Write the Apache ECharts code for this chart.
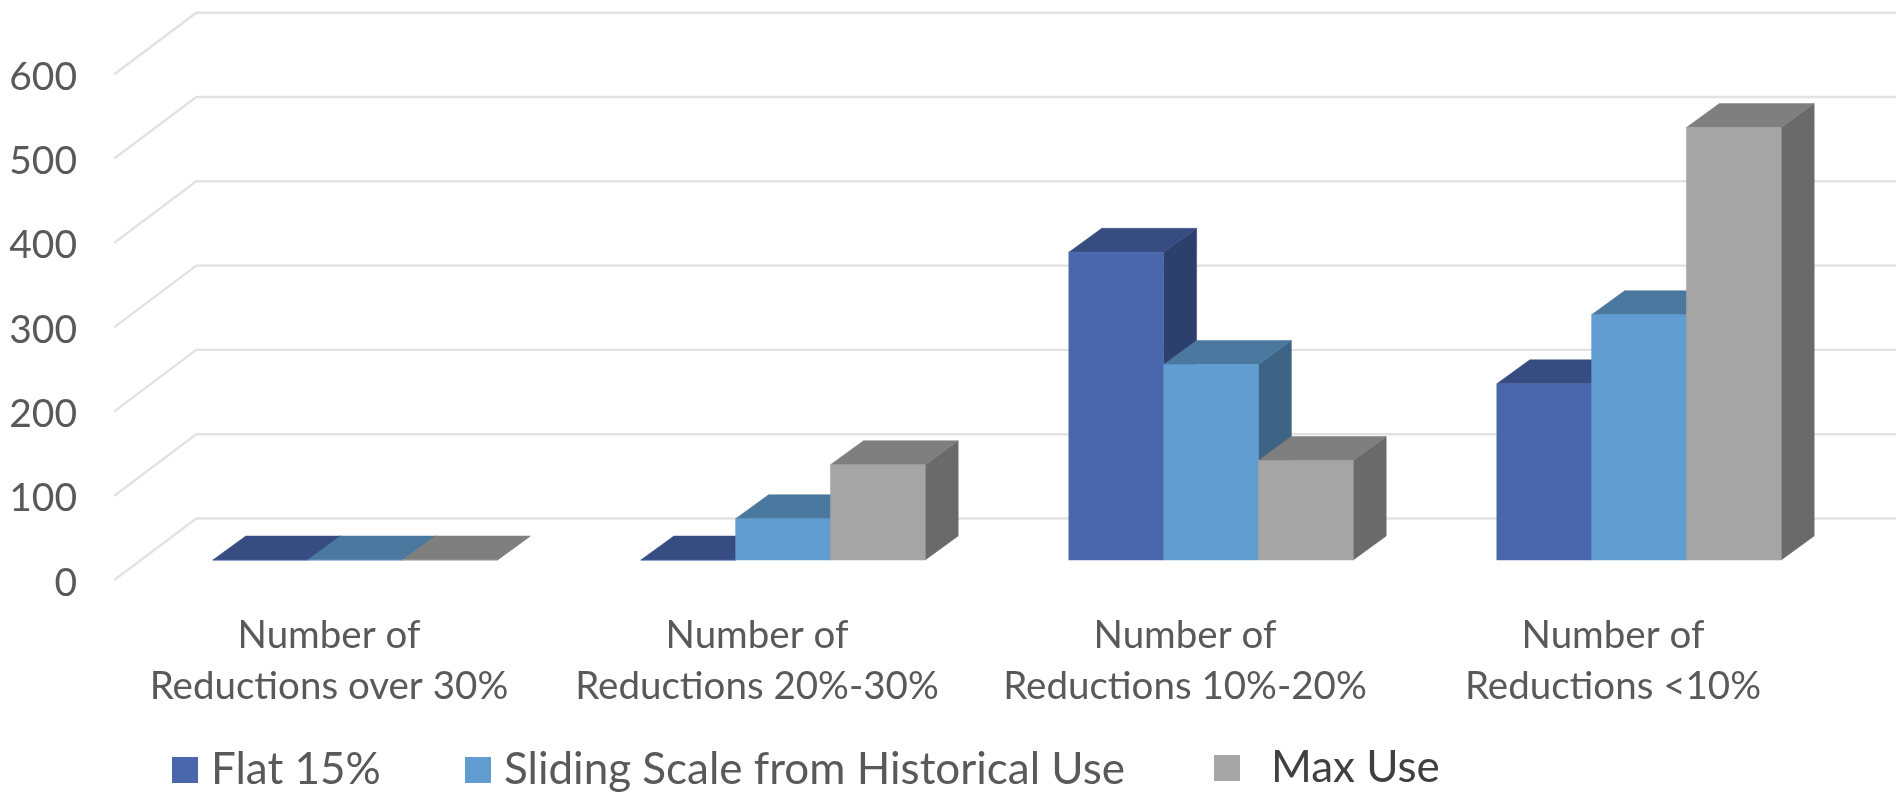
<!DOCTYPE html>
<html>
<head>
<meta charset="utf-8">
<style>html,body{margin:0;padding:0;background:#fff}#chart{width:1896px;height:792px}</style>
<script src="https://cdn.jsdelivr.net/npm/echarts@6/dist/echarts.min.js"></script>
</head>
<body>
<div id="chart"></div>
<script>
// Reductions by band, under three allocation methods
const categories = [
  'Number of\nReductions over 30%',
  'Number of\nReductions 20%-30%',
  'Number of\nReductions 10%-20%',
  'Number of\nReductions <10%'
];
const flat15 = [0, 0, 365, 209];
const slidingScale = [0, 49, 232, 291];
const maxUse = [0, 113, 118, 513];
const yTicks = [0, 100, 200, 300, 400, 500, 600];

const FONT = 'Lato';
const TEXT = '#595959';

// Oblique projection of the box: offsets from the bar plane to the floor's edges
const FLOOR_FRONT = [-26.7, 20];
const FLOOR_BACK = [55.3, -41.5];
const BAR_DEPTH = [33, -24];
const BAR_SHARE = 0.2215; // width of one bar as a share of a category band

function cuboid(slot, shades) {
  return function (params, api) {
    const band = api.size([1, 0])[0];
    const w = band * BAR_SHARE;
    const top = api.coord([api.value(0), api.value(1)]);
    const base = api.coord([api.value(0), 0]);
    const x0 = top[0] + (slot - 1.5) * w;
    const x1 = x0 + w;
    const dx = BAR_DEPTH[0], dy = BAR_DEPTH[1];
    const face = (points, fill) => ({
      type: 'polygon', shape: { points }, style: { fill, stroke: fill, lineWidth: 0.5 }
    });
    return {
      type: 'group',
      children: [
        face([[x1, top[1]], [x1 + dx, top[1] + dy], [x1 + dx, base[1] + dy], [x1, base[1]]], shades.side),
        face([[x0, top[1]], [x0 + dx, top[1] + dy], [x1 + dx, top[1] + dy], [x1, top[1]]], shades.top),
        face([[x0, top[1]], [x1, top[1]], [x1, base[1]], [x0, base[1]]], shades.front)
      ]
    };
  };
}

function barSeries(name, values, slot, shades) {
  return {
    name,
    type: 'custom',
    coordinateSystem: 'cartesian2d',
    itemStyle: { color: shades.front },
    data: values.map((v, i) => [i, v]),
    encode: { x: 0, y: 1 },
    renderItem: cuboid(slot, shades),
    z: 3
  };
}

// Each gridline runs up the side wall from the front of the floor, then along the back wall
const wallLines = {
  name: 'wall',
  type: 'custom',
  coordinateSystem: 'cartesian2d',
  silent: true,
  z: 1,
  data: yTicks.map(t => [0, t]),
  encode: { x: 0, y: 1 },
  renderItem(params, api) {
    const y = api.coord([0, api.value(1)])[1];
    const cs = params.coordSys;
    const left = cs.x;
    const right = cs.x + cs.width;
    return {
      type: 'polyline',
      shape: {
        points: [
          [left + FLOOR_FRONT[0], y + FLOOR_FRONT[1]],
          [left + FLOOR_BACK[0], y + FLOOR_BACK[1]],
          [right + FLOOR_BACK[0], y + FLOOR_BACK[1]]
        ]
      },
      style: { fill: 'none', stroke: '#e2e2e2', lineWidth: 2.4 }
    };
  }
};

function legendEntry(name, left, extra) {
  return Object.assign({
    data: [name],
    left,
    top: 748,
    padding: 0,
    icon: 'rect',
    itemWidth: 26,
    itemHeight: 26,
    textStyle: { fontFamily: FONT, fontSize: 44, color: TEXT, padding: [0, 0, 0, 8] }
  }, extra || {});
}

const chart = echarts.init(document.getElementById('chart'), null, { renderer: 'canvas' });
chart.setOption({
  animation: false,
  backgroundColor: '#ffffff',
  grid: { left: 141, width: 1712, top: 54.2, height: 505.8 },
  legend: [
    legendEntry('Flat 15%', 172),
    legendEntry('Sliding Scale from Historical Use', 465),
    legendEntry('Max Use', 1214, {
      top: 746,
      textStyle: { fontFamily: FONT, fontSize: 44, color: '#404040', padding: [0, 0, 0, 26] }
    })
  ],
  xAxis: {
    type: 'category',
    data: categories,
    axisLine: { show: false },
    axisTick: { show: false },
    axisLabel: {
      interval: 0,
      margin: 50,
      padding: [0, 52, 0, 0],
      fontFamily: FONT,
      fontSize: 38.5,
      lineHeight: 51,
      color: TEXT
    }
  },
  yAxis: {
    type: 'value',
    min: 0,
    max: 600,
    interval: 100,
    splitLine: { show: false },
    axisLine: { show: false },
    axisTick: { show: false },
    axisLabel: {
      margin: 64,
      verticalAlign: 'top',
      lineHeight: 46,
      fontFamily: FONT,
      fontSize: 39,
      color: TEXT
    }
  },
  series: [
    wallLines,
    barSeries('Flat 15%', flat15, 0, { front: '#4a66ac', top: '#374c80', side: '#2d3f6c' }),
    barSeries('Sliding Scale from Historical Use', slidingScale, 1, { front: '#629dd1', top: '#4a789e', side: '#3e6485' }),
    barSeries('Max Use', maxUse, 2, { front: '#a5a5a5', top: '#7f7f7f', side: '#6a6a6a' })
  ]
});
</script>
</body>
</html>
